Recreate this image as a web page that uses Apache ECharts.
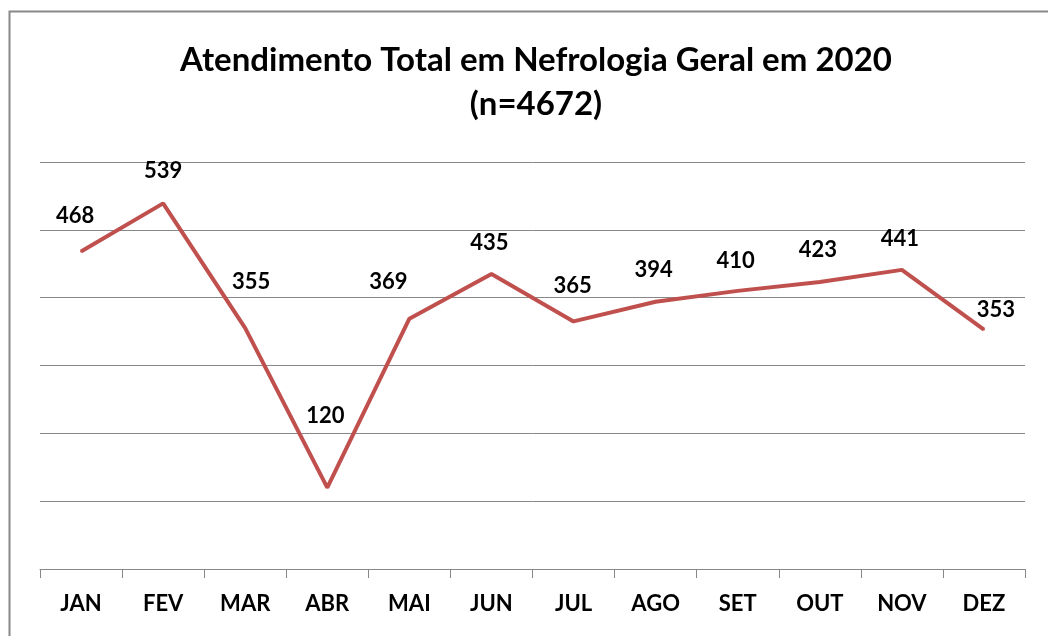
<!DOCTYPE html>
<html>
<head>
<meta charset="utf-8">
<script src="https://cdn.jsdelivr.net/npm/echarts@6/dist/echarts.min.js"></script>
<style>html,body{margin:0;padding:0;background:#fff;}#c{width:1048px;height:636px;}</style>
</head>
<body>
<div id="c"></div>
<script>
const months = ['JAN','FEV','MAR','ABR','MAI','JUN','JUL','AGO','SET','OUT','NOV','DEZ'];
const atendimentos = [468, 539, 355, 120, 369, 435, 365, 394, 410, 423, 441, 353];
const yTicks = [0, 100, 200, 300, 400, 500, 600];
// label placement style (pixel offsets), kept apart from data
const labelOffsets = [[-6,-19],[0,-15],[6,-29],[-2,-55],[-21,-20],[-2,-14],[-1,-19],[-2,-15],[-2,-13],[-2,-15],[-2,-14],[12,-3]];

const chart = echarts.init(document.getElementById('c'));
chart.setOption({
  backgroundColor: '#fff',
  animation: false,
  title: {
    text: 'Atendimento Total em Nefrologia Geral em 2020\n(n=4672)',
    left: 531,
    textAlign: 'center',
    top: 33,
    textStyle: {fontFamily: 'Lato', fontWeight: 'bold', fontSize: 33, lineHeight: 44, color: '#000'}
  },
  graphic: [{
    type: 'rect', left: 7, top: 9, shape: {x: 0, y: 0, width: 1100, height: 700},
    style: {fill: 'none', stroke: '#888', lineWidth: 2}, silent: true
  }],
  grid: {left: 40, right: 23, top: 162, bottom: 67},
  xAxis: {
    type: 'category',
    data: months,
    boundaryGap: true,
    axisLine: {lineStyle: {color: '#888', width: 1}},
    axisTick: {show: true, length: 9, lineStyle: {color: '#888'}},
    axisLabel: {margin: 24, fontFamily: 'Lato', fontWeight: 'bold', fontSize: 22, color: '#000'}
  },
  yAxis: {
    type: 'value',
    min: yTicks[0],
    max: yTicks[yTicks.length - 1],
    interval: 100,
    axisLabel: {show: false},
    axisLine: {show: false},
    axisTick: {show: false},
    splitLine: {lineStyle: {color: '#888', width: 1}}
  },
  series: [{
    type: 'line',
    data: atendimentos.map((v, i) => ({value: v, label: {offset: labelOffsets[i]}})),
    showSymbol: true,
    symbol: 'circle',
    symbolSize: 2,
    lineStyle: {color: '#C0504D', width: 4},
    itemStyle: {color: '#C0504D'},
    label: {
      show: true, position: 'top', distance: 5,
      fontFamily: 'Lato', fontWeight: 'bold', fontSize: 22, color: '#000'
    }
  }]
});
</script>
</body>
</html>
